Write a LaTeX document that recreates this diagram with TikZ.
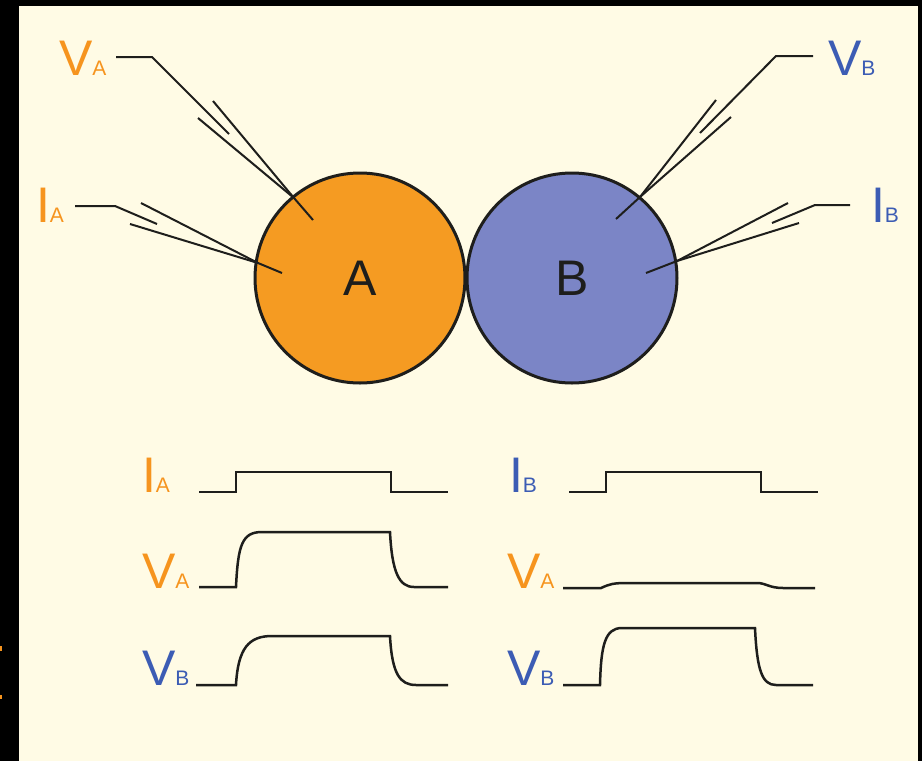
\documentclass[tikz,border=0pt]{standalone}
\usepackage{fontspec}
\setmainfont{Liberation Sans}
\definecolor{cream}{RGB}{255,251,229}
\definecolor{orangeF}{RGB}{245,155,34}
\definecolor{blueF}{RGB}{123,133,198}
\definecolor{orangeL}{RGB}{246,148,30}
\definecolor{blueL}{RGB}{60,92,180}
\definecolor{inkc}{RGB}{30,30,28}
\newcommand{\biglab}[2]{{\fontsize{50}{50}\selectfont #1}{\fontsize{21}{21}\selectfont #2}}
\tikzset{
  lbl/.style={anchor=base west, inner sep=0pt, outer sep=0pt},
  cell/.style={circle, draw=inkc, line width=3pt, minimum size=210pt, inner sep=0pt,
    font=\fontsize{50}{50}\selectfont, text=inkc},
  wire/.style={draw=inkc, line width=2pt, line cap=butt, line join=miter},
  trace/.style={draw=inkc, line width=2.5pt, line join=miter}
}
\begin{document}
\begin{tikzpicture}[x=1pt,y=-1pt]
\useasboundingbox (0,0) rectangle (922,761);
\fill[black] (0,0) rectangle (922,761);
\fill[cream] (19,6) rectangle (918,761);
\fill[orangeL] (0,646) rectangle (2,651);
\fill[orangeL] (0,695) rectangle (2,699);

% cells
\node[cell, fill=orangeF] (A) at (360,278) {A};
\node[cell, fill=blueF] (B) at (572,278) {B};

% top labels
\node[lbl, text=orangeL] (tVA) at (59,75) {\biglab{V}{A}};
\node[lbl, text=orangeL] (tIA) at (36,222) {\biglab{I}{A}};
\node[lbl, text=blueL] (tVB) at (828,75) {\biglab{V}{B}};
\node[lbl, text=blueL] (tIB) at (871,222) {\biglab{I}{B}};

% electrode VA
\coordinate (va0) at (116,57); \coordinate (va1) at (152,57); \coordinate (va2) at (229,134);
\coordinate (vau) at (213,101); \coordinate (val) at (198,118);
\coordinate (vac) at (294,198); \coordinate (vat) at (313,220);
\draw[wire] (va0) -- (va1) -- (va2);
\draw[wire] (vau) -- (vac) -- (vat);
\draw[wire] (val) -- (vac);
% electrode IA
\coordinate (ia0) at (75,206); \coordinate (ia1) at (115,206); \coordinate (ia2) at (157,224);
\coordinate (iau) at (141,203); \coordinate (ial) at (130,224);
\coordinate (iac) at (258,263); \coordinate (iat) at (282,273);
\draw[wire] (ia0) -- (ia1) -- (ia2);
\draw[wire] (iau) -- (iac) -- (iat);
\draw[wire] (ial) -- (iac);
% electrode VB
\coordinate (vb0) at (813,56); \coordinate (vb1) at (776,56); \coordinate (vb2) at (700,133);
\coordinate (vbu) at (716,100); \coordinate (vbl) at (731,117);
\coordinate (vbc) at (640,197); \coordinate (vbt) at (616,219);
\draw[wire] (vb0) -- (vb1) -- (vb2);
\draw[wire] (vbu) -- (vbc) -- (vbt);
\draw[wire] (vbl) -- (vbc);
% electrode IB
\coordinate (ib0) at (850,205); \coordinate (ib1) at (815,205); \coordinate (ib2) at (772,223);
\coordinate (ibu) at (788,203); \coordinate (ibl) at (799,223);
\coordinate (ibc) at (677,261); \coordinate (ibt) at (646,273);
\draw[wire] (ib0) -- (ib1) -- (ib2);
\draw[wire] (ibu) -- (ibc) -- (ibt);
\draw[wire] (ibl) -- (ibc);

% trace labels, left (current in A)
\node[lbl, text=orangeL] (lIA) at (142,492) {\biglab{I}{A}};
\node[lbl, text=orangeL] (lVA) at (142,588) {\biglab{V}{A}};
\node[lbl, text=blueL] (lVB) at (142,685) {\biglab{V}{B}};
% right (current in B)
\node[lbl, text=blueL] (rIB) at (509,492) {\biglab{I}{B}};
\node[lbl, text=orangeL] (rVA) at (507,588) {\biglab{V}{A}};
\node[lbl, text=blueL] (rVB) at (507,685) {\biglab{V}{B}};

% left traces
\draw[trace] (199,492) -- (236,492) -- (236,472) -- (391,472) -- (391,492) -- (448,492);
\draw[trace] (199,587) -- (236,587) .. controls (238,545) and (242,532) .. (262,532)
  -- (390,532) .. controls (392,572) and (399,587) .. (414,587) -- (448,587);
\draw[trace] (196,685) -- (236,685) .. controls (238,648) and (249,636) .. (272,636)
  -- (390,636) .. controls (392,674) and (400,685) .. (416,685) -- (448,685);
% right traces
\draw[trace] (569,492) -- (606,492) -- (606,472) -- (761,472) -- (761,492) -- (818,492);
\draw[trace] (563,588) -- (601,588) .. controls (610,584) and (613,583) .. (628,583)
  -- (757,583) .. controls (766,583) and (769,588) .. (783,588) -- (815,588);
\draw[trace] (563,685) -- (600,685) .. controls (601,645) and (605,628) .. (622,628)
  -- (755,628) .. controls (757,670) and (762,685) .. (776,685) -- (813,685);
\end{tikzpicture}
\end{document}
